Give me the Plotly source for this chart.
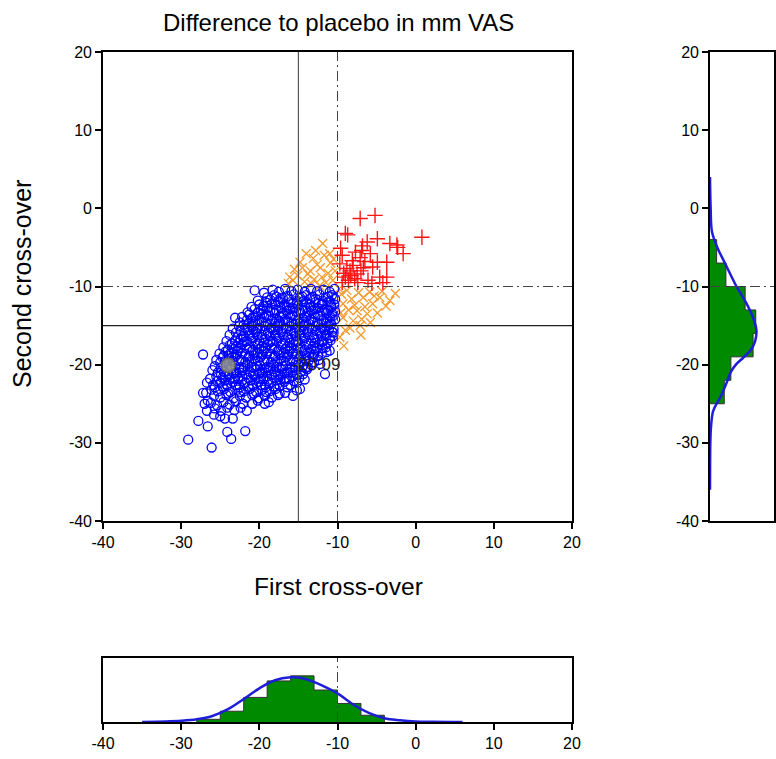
import plotly.graph_objects as go

# ---------------- data ----------------
tick_vals = [-40, -30, -20, -10, 0, 10, 20]

blue_points = [
    (-20.6,-10.5),(-19.4,-10.8),(-18.3,-10.4),(-17.5,-10.7),(-16.7,-10.3),(-15.9,-10.6),(-15.1,-10.4),(-14.2,-10.7),(-13.4,-10.3),(-12.6,-10.6),(-11.8,-10.4),(-11.0,-10.7),(-10.4,-10.3),
    (-20.2,-11.8),(-19.0,-11.4),(-18.1,-11.1),(-17.3,-11.5),(-16.4,-11.2),(-15.6,-11.0),(-14.8,-11.4),(-14.0,-11.1),(-13.2,-11.3),(-12.3,-11.0),(-11.5,-11.4),(-10.7,-11.1),(-10.3,-11.6),
    (-21.0,-12.6),(-20.0,-12.3),(-19.2,-12.0),(-18.4,-12.2),(-17.6,-11.9),(-16.8,-12.3),(-16.0,-12.0),(-15.2,-12.2),(-14.4,-11.9),(-13.6,-12.3),(-12.8,-12.0),(-11.9,-12.2),(-11.1,-11.9),(-10.4,-12.3),
    (-21.5,-13.3),(-20.6,-12.9),(-19.8,-13.1),(-19.0,-12.8),(-18.2,-13.0),(-17.3,-12.7),(-16.5,-13.1),(-15.7,-12.8),(-14.9,-13.0),(-14.1,-12.7),(-13.3,-13.1),(-12.5,-12.8),(-11.6,-13.0),(-10.8,-12.7),(-10.3,-13.2),
    (-22.2,-13.9),(-21.3,-13.6),(-20.4,-13.8),(-19.6,-13.5),(-18.8,-13.7),(-18.0,-13.4),(-17.1,-13.8),(-16.3,-13.5),(-15.5,-13.7),(-14.7,-13.4),(-13.9,-13.8),(-13.0,-13.5),(-12.2,-13.7),(-11.4,-13.4),(-10.6,-13.8),
    (-23.1,-14.0),(-22.5,-14.6),(-21.6,-14.3),(-20.8,-14.5),(-20.0,-14.2),(-19.2,-14.6),(-18.4,-14.3),(-17.5,-14.5),(-16.7,-14.2),(-15.9,-14.6),(-15.1,-14.3),(-14.3,-14.5),(-13.4,-14.2),(-12.6,-14.6),(-11.8,-14.3),(-11.0,-14.5),(-10.3,-14.2),
    (-23.4,-15.4),(-22.6,-15.1),(-21.8,-15.3),(-21.0,-15.0),(-20.2,-15.4),(-19.3,-15.1),(-18.5,-15.3),(-17.7,-15.0),(-16.9,-15.4),(-16.1,-15.1),(-15.3,-15.3),(-14.4,-15.0),(-13.6,-15.4),(-12.8,-15.1),(-12.0,-15.3),(-11.2,-15.0),(-10.5,-15.4),
    (-23.8,-16.2),(-23.0,-15.9),(-22.1,-16.5),(-21.3,-16.1),(-20.5,-15.8),(-19.7,-16.2),(-18.9,-15.9),(-18.0,-16.1),(-17.2,-15.8),(-16.4,-16.2),(-15.6,-15.9),(-14.8,-16.1),(-13.9,-15.8),(-13.1,-16.2),(-12.3,-15.9),(-11.5,-16.1),(-10.7,-15.8),(-10.6,-16.3),
    (-24.2,-17.0),(-23.1,-16.9),(-22.4,-16.7),(-21.6,-17.0),(-20.8,-16.6),(-20.0,-16.9),(-19.2,-16.7),(-18.3,-17.0),(-17.5,-16.6),(-16.7,-16.9),(-15.9,-16.7),(-15.1,-17.0),(-14.2,-16.6),(-13.4,-16.9),(-12.6,-16.7),(-11.8,-17.0),(-11.0,-16.6),
    (-24.6,-17.8),(-23.8,-17.5),(-23.0,-17.7),(-22.2,-17.4),(-21.3,-17.8),(-20.5,-17.5),(-19.7,-17.7),(-18.9,-17.4),(-18.1,-17.8),(-17.2,-17.5),(-16.4,-17.7),(-15.6,-17.4),(-14.8,-17.8),(-14.0,-17.5),(-13.1,-17.7),(-12.3,-17.4),(-11.5,-17.8),(-11.0,-18.2),
    (-25.1,-18.6),(-24.3,-18.3),(-23.5,-18.5),(-22.7,-18.2),(-21.8,-18.6),(-21.0,-18.3),(-20.2,-18.5),(-19.4,-18.2),(-18.6,-18.6),(-17.7,-18.3),(-16.9,-18.5),(-16.1,-18.2),(-15.3,-18.6),(-14.5,-18.3),(-13.6,-18.5),(-12.8,-18.2),(-12.0,-18.6),(-11.4,-18.4),
    (-25.5,-19.4),(-24.7,-19.1),(-23.9,-19.3),(-23.1,-19.0),(-22.3,-19.4),(-21.4,-19.1),(-20.6,-19.3),(-19.8,-19.0),(-19.0,-19.4),(-18.2,-19.1),(-17.3,-19.3),(-16.5,-19.0),(-15.7,-19.4),(-14.9,-19.1),(-14.1,-19.3),(-13.2,-19.0),(-12.4,-19.4),(-12.2,-19.9),
    (-25.7,-20.2),(-24.9,-20.4),(-23.1,-20.1),(-22.3,-20.3),(-21.5,-20.0),(-20.7,-20.4),(-19.9,-20.1),(-19.0,-20.3),(-18.2,-20.0),(-17.4,-20.4),(-16.6,-20.1),(-15.8,-20.3),(-15.0,-20.0),(-14.1,-20.4),(-13.3,-20.1),
    (-25.3,-21.0),(-26.0,-20.7),(-24.5,-20.9),(-23.7,-20.6),(-22.9,-21.0),(-22.1,-20.7),(-21.2,-20.9),(-20.4,-20.6),(-19.6,-21.0),(-18.8,-20.7),(-18.0,-20.9),(-17.1,-20.6),(-16.3,-21.0),(-15.5,-20.7),(-14.7,-20.9),(-13.9,-20.6),(-11.6,-21.2),
    (-26.3,-21.8),(-25.5,-21.5),(-24.7,-21.7),(-23.9,-21.4),(-23.1,-21.8),(-22.2,-21.5),(-21.4,-21.7),(-20.6,-21.4),(-19.8,-21.8),(-19.0,-21.5),(-18.1,-21.7),(-17.3,-21.4),(-16.5,-21.8),(-15.7,-21.5),(-14.9,-21.7),(-14.2,-21.9),
    (-26.7,-22.3),(-25.9,-22.6),(-25.0,-22.3),(-24.2,-22.5),(-23.4,-22.2),(-22.6,-22.6),(-21.8,-22.3),(-20.9,-22.5),(-20.1,-22.2),(-19.3,-22.6),(-18.5,-22.3),(-17.7,-22.5),(-16.8,-22.2),(-16.0,-22.6),(-15.2,-22.3),
    (-26.8,-23.6),(-26.1,-23.2),(-25.3,-23.4),(-24.5,-23.1),(-23.7,-23.5),(-22.8,-23.2),(-22.0,-23.4),(-21.2,-23.1),(-20.4,-23.5),(-19.6,-23.2),(-18.7,-23.4),(-17.9,-23.1),(-16.7,-23.6),(-15.2,-23.3),(-14.8,-23.1),
    (-26.6,-24.6),(-25.8,-24.0),(-25.0,-24.2),(-24.2,-23.9),(-23.3,-24.3),(-22.5,-24.0),(-21.7,-24.2),(-20.9,-23.9),(-20.1,-24.3),(-19.3,-24.0),(-18.4,-24.2),(-17.6,-23.9),(-15.7,-24.0),
    (-26.2,-24.9),(-25.4,-25.2),(-24.6,-24.8),(-23.8,-25.1),(-23.0,-24.7),(-22.1,-25.0),(-20.9,-25.0),(-19.3,-25.0),(-20.2,-24.6),(-18.8,-24.8),
    (-26.7,-25.9),(-25.7,-25.6),(-24.9,-25.9),(-24.1,-25.5),(-23.2,-25.8),(-22.4,-25.5),(-21.6,-25.9),
    (-25.8,-26.4),(-24.4,-26.9),(-23.4,-26.9),(-25.0,-26.6),
    (-29.1,-29.6),(-26.1,-30.6),(-23.6,-29.5),(-24.1,-28.6),(-21.8,-28.5),(-27.8,-27.2),(-26.6,-27.9),(-27.2,-18.7),(-27.2,-23.6),(-27.0,-25.0),
    (-18.6,-11.7),(-17.0,-11.5),(-15.2,-11.8),(-13.5,-11.6),(-11.9,-11.8),
    (-19.5,-12.5),(-18.0,-12.3),(-16.5,-12.6),(-15.0,-12.4),(-13.4,-12.6),(-12.0,-12.3),(-10.8,-12.5),
    (-20.2,-13.3),(-18.6,-13.1),(-17.0,-13.4),(-15.3,-13.2),(-13.7,-13.3),(-12.0,-13.1),(-10.7,-13.4),
    (-21.0,-14.1),(-19.4,-13.9),(-17.8,-14.1),(-16.0,-13.9),(-14.4,-14.1),(-12.9,-13.9),(-11.3,-14.1),
    (-22.0,-14.9),(-20.5,-14.7),(-18.9,-14.9),(-17.3,-14.7),(-15.6,-14.9),(-14.0,-14.7),(-12.4,-14.9),(-10.8,-14.8),
    (-22.4,-15.7),(-20.8,-15.5),(-19.3,-15.7),(-17.6,-15.5),(-16.0,-15.7),(-14.3,-15.5),(-12.7,-15.7),(-11.1,-15.5),
    (-22.8,-16.5),(-21.2,-16.3),(-19.6,-16.5),(-17.9,-16.3),(-16.3,-16.5),(-14.6,-16.3),(-13.0,-16.5),(-11.4,-16.3),
    (-23.5,-17.3),(-21.9,-17.1),(-20.2,-17.3),(-18.6,-17.1),(-17.0,-17.3),(-15.3,-17.1),(-13.7,-17.3),(-12.0,-17.1),
    (-24.0,-18.1),(-22.4,-17.9),(-20.8,-18.1),(-19.2,-17.9),(-17.5,-18.1),(-15.9,-17.9),(-14.2,-18.1),(-12.6,-17.9),
    (-24.6,-18.9),(-22.9,-18.7),(-21.3,-18.9),(-19.6,-18.7),(-18.0,-18.9),(-16.3,-18.7),(-14.7,-18.9),(-13.0,-18.7),
    (-25.0,-19.7),(-23.4,-19.5),(-21.8,-19.7),(-20.2,-19.5),(-18.5,-19.7),(-16.9,-19.5),(-15.3,-19.7),(-13.7,-19.5),
    (-22.6,-20.5),(-21.0,-20.3),(-19.4,-20.5),(-17.8,-20.3),(-16.1,-20.5),(-14.5,-20.3),
    (-24.9,-21.3),(-23.3,-21.1),(-21.7,-21.3),(-20.0,-21.1),(-18.4,-21.3),(-16.8,-21.1),(-15.2,-21.3),
    (-25.4,-22.1),(-23.8,-21.9),(-22.2,-22.1),(-20.5,-21.9),(-18.9,-22.1),(-17.3,-21.9),(-15.6,-22.1),
    (-25.7,-22.9),(-24.1,-22.7),(-22.5,-22.9),(-20.8,-22.7),(-19.2,-22.9),(-17.4,-22.7),
    (-17.8,-11.3),(-16.2,-11.6),(-14.5,-11.3),(-12.8,-11.6),(-11.2,-11.3),
    (-19.0,-12.1),(-17.3,-12.0),(-15.7,-12.2),(-14.0,-12.0),(-12.4,-12.2),(-10.9,-12.0),
    (-19.5,-12.9),(-17.8,-13.1),(-16.1,-12.9),(-14.5,-13.1),(-12.9,-12.9),(-11.2,-13.1),
    (-20.8,-13.9),(-19.1,-13.7),(-17.4,-13.9),(-15.8,-13.7),(-14.2,-13.9),(-12.5,-13.7),(-10.9,-13.9),
    (-21.3,-14.7),(-19.7,-14.5),(-18.0,-14.7),(-16.4,-14.5),(-14.8,-14.7),(-13.1,-14.5),(-11.5,-14.7),
    (-21.5,-15.6),(-19.9,-15.4),(-18.2,-15.6),(-16.6,-15.4),(-14.9,-15.6),(-13.3,-15.4),(-11.7,-15.6),(-10.5,-15.9),
    (-22.0,-16.3),(-20.3,-16.1),(-18.7,-16.3),(-17.0,-16.1),(-15.4,-16.3),(-13.8,-16.1),(-12.1,-16.3),(-10.9,-16.9),
    (-22.7,-17.2),(-21.0,-17.0),(-19.4,-17.2),(-17.8,-17.0),(-16.1,-17.2),(-14.5,-17.0),(-12.9,-17.2),(-11.3,-17.3),
    (-23.3,-18.0),(-21.6,-17.9),(-20.0,-18.0),(-18.4,-17.9),(-16.7,-18.0),(-15.1,-17.9),(-13.4,-18.0),(-11.9,-17.9),
    (-23.9,-18.8),(-22.2,-18.6),(-20.6,-18.8),(-19.0,-18.6),(-17.3,-18.8),(-15.7,-18.6),(-14.0,-18.8),(-12.5,-18.9),
    (-24.3,-19.6),(-22.6,-19.5),(-21.0,-19.6),(-19.4,-19.5),(-17.7,-19.6),(-16.1,-19.5),(-14.5,-19.6),(-13.0,-19.7),
    (-23.6,-20.2),(-22.0,-20.4),(-20.3,-20.2),(-18.6,-20.4),(-17.0,-20.2),(-15.4,-20.4),(-13.8,-20.3),
    (-24.1,-21.2),(-22.5,-21.0),(-20.8,-21.2),(-19.2,-21.0),(-17.6,-21.2),(-16.0,-21.0),(-14.4,-21.2),
    (-24.4,-22.0),(-22.7,-21.8),(-21.1,-22.0),(-19.5,-21.8),(-17.8,-22.0),(-16.2,-21.8),
    (-24.7,-22.8),(-23.0,-22.6),(-21.4,-22.8),(-19.8,-22.6),(-18.1,-22.8),(-16.4,-22.9),
    (-24.0,-23.7),(-22.4,-23.5),(-20.7,-23.7),(-19.1,-23.5),(-17.4,-23.7),
]

orange_points = [
    (-16.3,-9.6),(-15.7,-9.2),(-15.1,-8.6),(-14.8,-6.9),(-14.5,-7.6),(-14.2,-9.4),(-13.8,-8.4),(-13.5,-8.0),
    (-13.1,-6.4),(-13.0,-9.1),(-12.6,-7.2),(-12.2,-7.6),(-12.0,-8.8),(-11.9,-4.5),(-11.7,-6.0),(-11.5,-9.5),
    (-11.2,-8.3),(-11.0,-5.8),(-10.9,-7.0),(-10.6,-9.2),(-10.5,-6.5),(-10.3,-8.0),(-12.8,-5.4),(-14.0,-5.8),
    (-15.5,-7.8),(-16.1,-8.8),(-13.3,-9.7),(-12.3,-9.9),
    (-9.8,-10.3),(-9.5,-11.0),(-9.3,-12.2),(-9.3,-14.0),(-9.2,-17.6),(-9.0,-15.6),(-8.8,-10.5),(-8.6,-13.0),
    (-8.4,-15.3),(-8.2,-11.6),(-7.8,-12.4),(-7.5,-13.1),(-7.3,-10.8),(-7.1,-15.0),(-6.9,-14.2),(-6.7,-11.4),
    (-6.5,-12.6),(-6.2,-13.5),(-5.9,-10.7),(-5.5,-12.2),(-5.3,-11.2),(-4.9,-13.4),(-4.6,-11.4),(-4.3,-10.6),
    (-3.3,-11.8),(-2.6,-10.9),(-9.7,-16.5),(-8.0,-14.4),(-9.6,-13.4),(-7.0,-16.2),(-5.8,-14.6),(-3.8,-12.5),
]

red_points = [
    (-7.1,-1.3),(-5.2,-0.9),(-9.0,-3.2),(-8.7,-3.4),(0.8,-3.7),(-4.9,-3.9),(-2.4,-4.7),(-1.6,-5.8),
    (-6.2,-4.3),(-6.9,-5.4),(-9.4,-6.0),(-8.1,-6.7),(-5.8,-5.8),(-4.9,-6.9),(-3.7,-6.9),(-4.6,-8.8),
    (-4.2,-9.5),(-9.0,-8.8),(-8.4,-8.0),(-7.5,-8.4),(-6.7,-7.6),(-6.1,-9.2),(-7.4,-9.5),(-9.7,-7.1),
    (-9.4,-9.5),(-8.0,-7.3),(-7.1,-6.3),(-3.3,-4.5),(-2.3,-5.0),(-3.7,-8.8),(-8.8,-7.7),(-8.3,-8.6),
    (-7.8,-9.0),(-9.2,-8.3),(-7.0,-8.0),(-8.6,-9.2),(-6.5,-6.8),(-5.5,-7.5),(-6.8,-4.8),(-5.6,-9.6),
    (-9.6,-5.1),(-7.7,-5.6),
]

highlight_point = (-24.0, -20.09)
highlight_label = "-20.09"

# histogram of first cross-over (bottom panel): bin left edges, bin width, heights
hx_left = [-28, -25, -22, -19, -16, -13, -10, -7]
hx_counts = [8, 32, 73, 122, 137, 95, 55, 20]
bin_w = 3
fx_x = [-35, -32, -30, -28, -26, -24, -22, -20, -18, -16, -15, -14, -12, -10, -8, -6, -4, -2, 0, 2, 6]
fx_y = [0.3, 1.5, 3.5, 8, 18, 38, 68, 100, 124, 133, 132, 127, 109, 85, 52, 27, 11, 5, 1.5, 0.5, 0]

# histogram of second cross-over (right panel): bin top edges, heights
hy_top = [-4, -7, -10, -13, -16, -19, -22]
hy_counts = [20, 48, 106, 138, 130, 63, 43]
fy_y = [4, 0, -3, -5, -7, -9, -10, -12, -14, -15.6, -17, -18, -19, -20, -21, -22, -24, -25, -26, -28, -30, -33, -36]
fy_x = [0, 2, 6, 22, 45, 68, 80, 108, 130, 140, 136, 125, 103, 78, 62, 53, 33, 20, 9, 3, 1, 0.3, 0]

# ---------------- figure ----------------
FONT = "Liberation Sans, Arial, Helvetica, sans-serif"
BLUE = "#0000FF"
ORANGE = "#F59A2E"
RED = "#FF1414"
GREEN = "#008A00"
CURVE = "#1E1ED8"
DASHDOT = "10px,4px,2px,4px"

W, H = 776, 759
def px_x(p):
    return p / W
def px_y(p):
    return 1 - p / H

main_x = [px_x(103), px_x(572)]
main_y = [px_y(521), px_y(52)]
right_x = [px_x(710), px_x(774)]
bot_y = [px_y(722), px_y(658)]

# step outlines of the histograms, built from the bins
bx, by = [hx_left[0]], [0]
for left, c in zip(hx_left, hx_counts):
    bx += [left, left + bin_w]
    by += [c, c]
bx.append(hx_left[-1] + bin_w)
by.append(0)

ry, rx = [hy_top[0]], [0]
for top, c in zip(hy_top, hy_counts):
    ry += [top, top - bin_w]
    rx += [c, c]
ry.append(hy_top[-1] - bin_w)
rx.append(0)

fig = go.Figure()

fig.add_trace(go.Scatter(
    x=[p[0] for p in orange_points], y=[p[1] for p in orange_points], mode="markers",
    marker=dict(symbol="x-thin-open", size=9, color=ORANGE, line=dict(color=ORANGE, width=1.3)),
    xaxis="x", yaxis="y", hoverinfo="skip"))
fig.add_trace(go.Scatter(
    x=[p[0] for p in red_points], y=[p[1] for p in red_points], mode="markers",
    marker=dict(symbol="cross-thin-open", size=11, color=RED, line=dict(color=RED, width=1.4)),
    xaxis="x", yaxis="y", hoverinfo="skip"))
fig.add_trace(go.Scatter(
    x=[p[0] for p in blue_points], y=[p[1] for p in blue_points], mode="markers",
    marker=dict(symbol="circle-open", size=9, color=BLUE, line=dict(color=BLUE, width=1.3)),
    xaxis="x", yaxis="y", hoverinfo="skip"))
fig.add_trace(go.Scatter(
    x=[highlight_point[0]], y=[highlight_point[1]], mode="markers",
    marker=dict(symbol="circle", size=14, color="rgba(140,140,140,0.9)", line=dict(color="#666666", width=1.5)),
    xaxis="x", yaxis="y", hoverinfo="skip"))
fig.add_trace(go.Scatter(
    x=[highlight_point[0] + 8.2], y=[highlight_point[1]], mode="text", text=[highlight_label],
    textposition="middle right", textfont=dict(family=FONT, size=17, color="#222222"),
    xaxis="x", yaxis="y", hoverinfo="skip"))

# bottom histogram
fig.add_trace(go.Scatter(
    x=bx, y=by, mode="lines", fill="toself", fillcolor=GREEN,
    line=dict(color="#333333", width=1), xaxis="x3", yaxis="y3", hoverinfo="skip"))
fig.add_trace(go.Scatter(
    x=fx_x, y=fx_y, mode="lines", line=dict(color=CURVE, width=2.5, shape="spline"),
    xaxis="x3", yaxis="y3", hoverinfo="skip"))

# right histogram
fig.add_trace(go.Scatter(
    x=rx, y=ry, mode="lines", fill="toself", fillcolor=GREEN,
    line=dict(color="#333333", width=1), xaxis="x2", yaxis="y2", hoverinfo="skip"))
fig.add_trace(go.Scatter(
    x=fy_x, y=fy_y, mode="lines", line=dict(color=CURVE, width=2.5, shape="spline"),
    xaxis="x2", yaxis="y2", hoverinfo="skip"))

# reference lines
shapes = [
    dict(type="line", xref="x", yref="y", x0=-15, x1=-15, y0=-40, y1=20, line=dict(color="#555555", width=1.2)),
    dict(type="line", xref="x", yref="y", x0=-40, x1=20, y0=-15, y1=-15, line=dict(color="#222222", width=1.2)),
    dict(type="line", xref="x", yref="y", x0=-10, x1=-10, y0=-40, y1=20, line=dict(color="#444444", width=1, dash=DASHDOT)),
    dict(type="line", xref="x", yref="y", x0=-40, x1=20, y0=-10, y1=-10, line=dict(color="#444444", width=1, dash=DASHDOT)),
    dict(type="line", xref="x2 domain", yref="y2", x0=0, x1=1, y0=-10, y1=-10, line=dict(color="#444444", width=1, dash=DASHDOT)),
    dict(type="line", xref="x3", yref="y3 domain", x0=-10, x1=-10, y0=0, y1=1, line=dict(color="#444444", width=1, dash=DASHDOT)),
]

axis_common = dict(showgrid=False, zeroline=False, showline=True, linecolor="black", linewidth=1.6,
                   mirror=True, automargin=False, tickfont=dict(family=FONT, size=16, color="black"))
tick_axis = dict(ticks="outside", ticklen=6, tickwidth=1.6, tickcolor="black",
                 tickmode="array", tickvals=tick_vals, ticktext=[str(v) for v in tick_vals])

fig.update_layout(
    width=W, height=H, margin=dict(l=0, r=0, t=0, b=0, pad=0), autosize=False,
    paper_bgcolor="white", plot_bgcolor="white", showlegend=False,
    font=dict(family=FONT, color="black"),
    shapes=shapes,
    xaxis=dict(domain=main_x, range=[-40, 20], anchor="y", **axis_common, **tick_axis),
    yaxis=dict(domain=main_y, range=[-40, 20], anchor="x", **axis_common, **tick_axis),
    xaxis2=dict(domain=right_x, range=[0, 193], anchor="y2", showticklabels=False, ticks="", **axis_common),
    yaxis2=dict(domain=main_y, range=[-40, 20], anchor="x2", **axis_common, **tick_axis),
    xaxis3=dict(domain=main_x, range=[-40, 20], anchor="y3", **axis_common, **tick_axis),
    yaxis3=dict(domain=bot_y, range=[0, 190], anchor="x3", showticklabels=False, ticks="", **axis_common),
    annotations=[
        dict(text="Difference to placebo in mm VAS", xref="paper", yref="paper",
             x=px_x(338), y=px_y(22), xanchor="center", yanchor="middle", showarrow=False,
             font=dict(family=FONT, size=24, color="black")),
        dict(text="First cross-over", xref="paper", yref="paper",
             x=px_x(338), y=px_y(586), xanchor="center", yanchor="middle", showarrow=False,
             font=dict(family=FONT, size=24.5, color="black")),
        dict(text="Second cross-over", xref="paper", yref="paper", textangle=-90,
             x=px_x(22), y=px_y(284), xanchor="center", yanchor="middle", showarrow=False,
             font=dict(family=FONT, size=25, color="black")),
    ],
)

# place the figure at the page's top-left corner, without page scrollbars or mode bar
fig.write_html(
    "out.html",
    config={"displayModeBar": False},
    post_script="document.body.style.margin='0';document.body.style.overflow='hidden';",
)
